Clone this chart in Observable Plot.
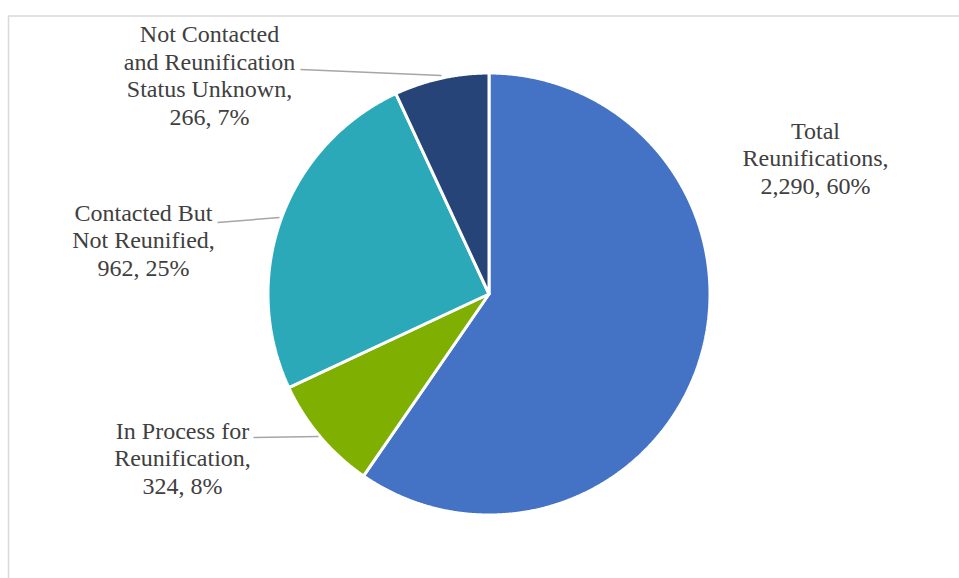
<!DOCTYPE html>
<html><head><meta charset="utf-8">
<script src="https://cdn.jsdelivr.net/npm/d3@7"></script>
<script src="https://cdn.jsdelivr.net/npm/@observablehq/plot@0.6"></script>
<style>html,body{margin:0;padding:0;background:#fff}</style>
</head><body><div id="chart"></div>
<script>
// ---- data ----
const categories = ["Total Reunifications", "In Process for Reunification", "Contacted But Not Reunified", "Not Contacted and Reunification Status Unknown"];
const values = [2290, 324, 962, 266];
const percentLabels = ["60%", "8%", "25%", "7%"];
const labelLines = [
  ["Total", "Reunifications,"],
  ["In Process for", "Reunification,"],
  ["Contacted But", "Not Reunified,"],
  ["Not Contacted", "and Reunification", "Status Unknown,"]
];
const colors = ["#4472C4", "#7FAF00", "#2BA9B8", "#264478"];

// ---- layout (pixels) ----
const W = 959, H = 578, CX = 488.5, CY = 293.5, R = 221;
const labelPos = [[815, 193], [182, 493], [143, 275], [209, 124]];          // centre x, last baseline y
const leaderPos = [null, [[253, 437], [318, 436]], [[217, 222], [279, 217]], [[300, 69], [441, 75]]];
const ux = px => (px - CX) / R, uy = py => (CY - py) / R;

// slice outlines from pie angles
const arcs = d3.pie().sort(null)(values);
const slicePts = [];
arcs.forEach((a, i) => {
  const steps = Math.max(2, Math.ceil((a.endAngle - a.startAngle) / 0.005));
  slicePts.push({cat: categories[i], x: 0, y: 0});
  for (let k = 0; k <= steps; k++) {
    const t = a.startAngle + (a.endAngle - a.startAngle) * k / steps;
    slicePts.push({cat: categories[i], x: Math.sin(t), y: Math.cos(t)});
  }
  slicePts.push({cat: categories[i], x: 0, y: 0});
});

const fmt = d3.format(",");
const labels = categories.map((c, i) => ({
  text: [...labelLines[i], fmt(values[i]) + ", " + percentLabels[i]].join("\n"),
  x: ux(labelPos[i][0]), y: uy(labelPos[i][1])
}));
const leaders = leaderPos.map((p, i) => p && ({x1: ux(p[0][0]), y1: uy(p[0][1]), x2: ux(p[1][0]), y2: uy(p[1][1])})).filter(Boolean);

const chart = Plot.plot({
  width: W, height: H, margin: 0,
  x: {domain: [ux(0), ux(W)], axis: null},
  y: {domain: [uy(H), uy(0)], axis: null},
  color: {domain: categories, range: colors},
  style: {background: "#fff", fontFamily: "'Liberation Serif', 'Times New Roman', serif"},
  marks: [
    Plot.rect([{x1: ux(8.5), x2: ux(W + 10), y1: uy(16), y2: uy(H + 10)}], {x1: "x1", x2: "x2", y1: "y1", y2: "y2", fill: "none", stroke: "#D9D9D9", strokeWidth: 1.5}),
    Plot.line(slicePts, {x: "x", y: "y", z: "cat", fill: "cat", stroke: "#fff", strokeWidth: 3, strokeLinejoin: "miter"}),
    Plot.link(leaders, {x1: "x1", y1: "y1", x2: "x2", y2: "y2", stroke: "#A6A6A6", strokeWidth: 1.5}),
    Plot.text(labels, {x: "x", y: "y", text: "text", textAnchor: "middle", lineAnchor: "bottom", lineHeight: 1.146,
      fontFamily: "'Liberation Serif', 'Times New Roman', serif", fontSize: 24, fill: "#404040"})
  ]
});
document.getElementById("chart").appendChild(chart);
</script>
</body></html>
